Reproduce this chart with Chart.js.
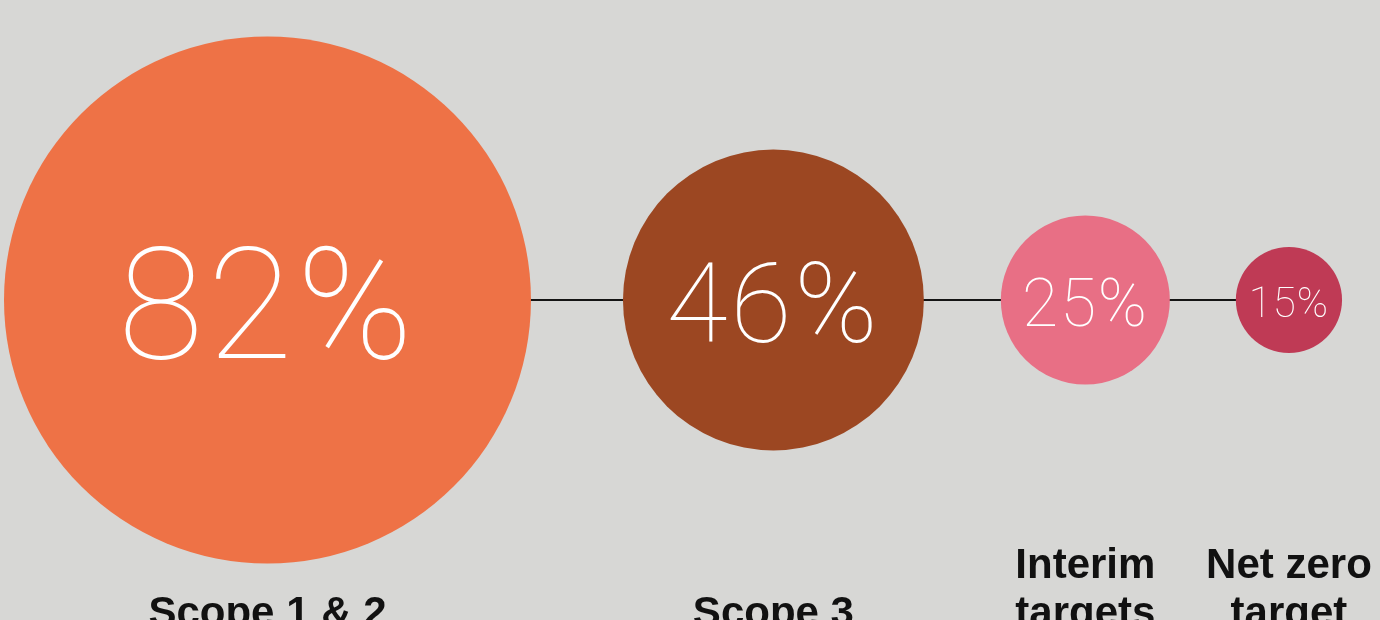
<!DOCTYPE html>
<html>
<head>
<meta charset="utf-8">
<title>Targets by scope</title>
<script src="https://cdn.jsdelivr.net/npm/chart.js@4.4.1/dist/chart.umd.min.js"></script>
<style>
    html, body { margin: 0; padding: 0; background: #d7d7d5; }
    #wrap { width: 1380px; height: 620px; position: relative; }
</style>
</head>
<body>
<div id="wrap"><canvas id="chart-scopes"></canvas></div>
<script>
// ---------------- DATA ----------------

const scopeLabels = [["Scope 1 & 2"], ["Scope 3"], ["Interim", "targets"], ["Net zero", "target"]];
const scopeValues = [82, 46, 25, 15];

// ---------------- STYLE ----------------

const bubbleColors = ["#ee7246", "#9c4722", "#e86f85", "#bf3a55"];
const valueFontSizes = [156, 112, 66, 42];
const leftEdge = 4;           // first circle's left edge (px)
const gaps = [92, 77, 66];    // bare line visible between circles (px)

// radius grows with the share
const radiusOf = v => 6 + 3.14 * v;

// lay circles out left to right, each one touching the connector
function centersFor(values) {
    const xs = [];
    let x = leftEdge;
    values.forEach((v, i) => {
        const r = radiusOf(v);
        if (i > 0) x += gaps[i - 1];
        xs.push(x + r);
        x += 2 * r;
    });
    return xs;
}

const centers = centersFor(scopeValues);
const bubbles = scopeValues.map((v, i) => ({ x: centers[i], y: 0, r: radiusOf(v) }));

// ---------------- LABELS ----------------

const labelPlugin = {
    id: "scopeText",
    afterDatasetsDraw(chart) {
        const ctx = chart.ctx;
        const xs = chart.scales.x;
        const ys = chart.scales.y;
        const yMid = ys.getPixelForValue(0);

        ctx.save();
        ctx.textAlign = "center";
        ctx.textBaseline = "alphabetic";

        // percentages inside the circles, cap height centred on the line
        ctx.fillStyle = "#ffffff";
        scopeValues.forEach((v, i) => {
            const size = valueFontSizes[i];
            ctx.font = `100 ${size}px Roboto, "Open Sans", sans-serif`;
            if ("letterSpacing" in ctx) ctx.letterSpacing = `${(size * 0.025).toFixed(1)}px`;
            ctx.fillText(`${v}%`, xs.getPixelForValue(bubbles[i].x), yMid + size * 0.36 + 2);
        });

        // captions under the circles, bottom aligned
        ctx.fillStyle = "#111111";
        ctx.font = `bold 42px "Liberation Sans", Arial, sans-serif`;
        if ("letterSpacing" in ctx) ctx.letterSpacing = "0px";
        const lastBaseline = yMid + 326;
        const lineHeight = 48;
        scopeLabels.forEach((lines, i) => {
            const x = xs.getPixelForValue(bubbles[i].x);
            lines.forEach((line, j) => {
                const y = lastBaseline - (lines.length - 1 - j) * lineHeight;
                ctx.fillText(line, x, y);
            });
        });
        ctx.restore();
    }
};

// ---------------- CHART ----------------

const ctx = document.getElementById("chart-scopes").getContext("2d");

new Chart(ctx, {
    type: "bubble",
    data: {
        datasets: [
            {
                label: "Share",
                data: bubbles,
                backgroundColor: bubbleColors,
                borderWidth: 0,
                hoverBorderWidth: 0,
                clip: false,
                order: 0
            },
            {
                type: "line",
                label: "Connector",
                data: [{ x: centers[0], y: 0 }, { x: centers[centers.length - 1], y: 0 }],
                borderColor: "#141414",
                borderWidth: 2,
                pointRadius: 0,
                fill: false,
                order: 1
            }
        ]
    },
    options: {
        responsive: true,
        maintainAspectRatio: false,
        animation: false,
        events: [],
        layout: { autoPadding: false, padding: { top: 0, right: 0, bottom: 20, left: 0 } },
        plugins: {
            legend: { display: false },
            tooltip: { enabled: false },
            title: { display: false }
        },
        scales: {
            x: { type: "linear", min: 0, max: 1380, display: false },
            y: { type: "linear", min: -1, max: 1, display: false }
        }
    },
    plugins: [labelPlugin]
});
</script>
</body>
</html>
